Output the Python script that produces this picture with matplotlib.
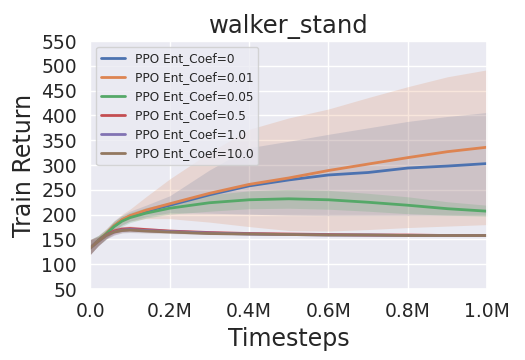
import matplotlib
matplotlib.use("Agg")
import matplotlib.pyplot as plt
import seaborn as sns
import numpy as np

sns.set_theme(style="darkgrid")
plt.rcParams['font.family'] = ['DejaVu Sans']

x_m = [0, 0.02, 0.04, 0.06, 0.08, 0.1, 0.14, 0.2, 0.3, 0.4, 0.5, 0.6, 0.7, 0.8, 0.9, 1.0]

labels = ["PPO Ent_Coef=0", "PPO Ent_Coef=0.01", "PPO Ent_Coef=0.05",
          "PPO Ent_Coef=0.5", "PPO Ent_Coef=1.0", "PPO Ent_Coef=10.0"]

mean_0 = [133, 148, 161, 177, 189, 197, 207, 219, 240, 258, 270, 280, 285, 294, 298, 303]
low_0 = [120, 138, 152, 167, 179, 187, 196, 204, 203, 201, 199, 198, 198, 198, 198, 198]
high_0 = [150, 158, 170, 187, 199, 207, 219, 238, 290, 335, 348, 362, 375, 388, 398, 406]

mean_001 = [133, 148, 162, 178, 190, 198, 209, 222, 243, 261, 274, 289, 302, 315, 327, 336]
low_001 = [120, 138, 152, 168, 180, 187, 192, 192, 185, 176, 168, 167, 170, 174, 177, 180]
high_001 = [150, 158, 172, 188, 201, 211, 236, 272, 325, 372, 395, 413, 436, 458, 478, 492]

mean_005 = [133, 148, 161, 176, 187, 194, 203, 213, 224, 230, 232, 230, 225, 219, 212, 207]
low_005 = [120, 138, 151, 165, 176, 184, 193, 201, 207, 212, 213, 211, 207, 202, 199, 197]
high_005 = [150, 158, 171, 187, 198, 204, 214, 225, 240, 248, 251, 249, 243, 236, 226, 219]

mean_05 = [133, 147, 159, 167, 171, 172, 170, 167, 164, 162, 161, 160, 159, 159, 158, 158]
low_05 = [120, 138, 152, 161, 166, 167, 166, 164, 161, 160, 159, 158, 158, 157, 157, 157]
high_05 = [150, 156, 166, 173, 176, 177, 174, 170, 167, 164, 163, 162, 161, 160, 159, 159]

mean_1 = [133, 146, 158, 165, 169, 170, 168, 166, 163, 161, 160, 159, 159, 158, 158, 158]
low_1 = [120, 137, 151, 159, 164, 165, 164, 163, 160, 159, 158, 158, 157, 157, 157, 157]
high_1 = [150, 155, 165, 171, 174, 175, 172, 169, 166, 163, 162, 161, 160, 159, 159, 159]

mean_10 = [133, 146, 158, 165, 168, 169, 167, 165, 162, 161, 160, 159, 159, 158, 158, 158]
low_10 = [120, 137, 151, 159, 163, 164, 163, 162, 160, 159, 158, 158, 157, 157, 157, 157]
high_10 = [150, 155, 165, 171, 173, 174, 171, 168, 165, 163, 162, 161, 160, 159, 159, 159]

series = [
    (mean_0, low_0, high_0),
    (mean_001, low_001, high_001),
    (mean_005, low_005, high_005),
    (mean_05, low_05, high_05),
    (mean_1, low_1, high_1),
    (mean_10, low_10, high_10),
]

xticks = [0, 0.2, 0.4, 0.6, 0.8, 1.0]
xticklabels = ["0.0", "0.2M", "0.4M", "0.6M", "0.8M", "1.0M"]
yticks = list(range(50, 551, 50))

colors = sns.color_palette("deep")

fig, ax = plt.subplots(figsize=(5.25, 3.6), dpi=100)
x = np.array(x_m) * 1e6
for i, ((m, lo, hi), lab) in enumerate(zip(series, labels)):
    ax.fill_between(x, lo, hi, color=colors[i], alpha=0.2, linewidth=0)
    ax.plot(x, m, color=colors[i], lw=2, label=lab)

ax.set_xlim(0, 1e6)
ax.set_ylim(50, 550)
ax.set_xticks(np.array(xticks) * 1e6)
ax.set_xticklabels(xticklabels)
ax.set_yticks(yticks)
ax.tick_params(labelsize=13.5)
ax.set_title("walker_stand", fontsize=17.5)
ax.set_xlabel("Timesteps", fontsize=17)
ax.set_ylabel("Train Return", fontsize=17)
ax.legend(loc="upper left", fontsize=8.7)

fig.subplots_adjust(left=0.172, right=0.928, top=0.886, bottom=0.197)
fig.savefig("out.png", dpi=100)
